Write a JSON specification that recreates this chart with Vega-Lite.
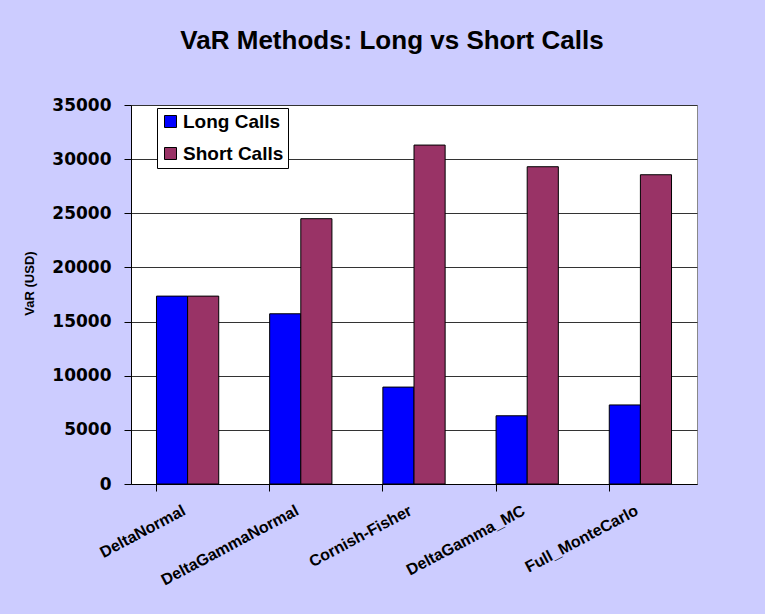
{
  "$schema": "https://vega.github.io/schema/vega-lite/v6.json",
  "width": 566,
  "height": 379,
  "autosize": "none",
  "padding": {"left": 131, "top": 105, "right": 68, "bottom": 130},
  "background": "#CCCCFF",
  "title": {
    "text": "VaR Methods: Long vs Short Calls",
    "font": "Liberation Sans",
    "fontSize": 26,
    "fontWeight": "bold",
    "color": "black",
    "anchor": "middle",
    "frame": "group",
    "offset": 42,
    "dx": -22
  },
  "data": {
    "values": [
      {"method": "DeltaNormal", "series": "Long Calls", "var": 17350},
      {"method": "DeltaNormal", "series": "Short Calls", "var": 17350},
      {"method": "DeltaGammaNormal", "series": "Long Calls", "var": 15720},
      {"method": "DeltaGammaNormal", "series": "Short Calls", "var": 24500},
      {"method": "Cornish-Fisher", "series": "Long Calls", "var": 8950},
      {"method": "Cornish-Fisher", "series": "Short Calls", "var": 31300},
      {"method": "DeltaGamma_MC", "series": "Long Calls", "var": 6300},
      {"method": "DeltaGamma_MC", "series": "Short Calls", "var": 29300},
      {"method": "Full_MonteCarlo", "series": "Long Calls", "var": 7300},
      {"method": "Full_MonteCarlo", "series": "Short Calls", "var": 28560}
    ]
  },
  "mark": {"type": "bar", "stroke": "black", "strokeWidth": 1},
  "encoding": {
    "x": {
      "field": "method",
      "type": "nominal",
      "sort": null,
      "scale": {"paddingInner": 0.45, "paddingOuter": 0.225},
      "axis": {
        "title": null,
        "labelAngle": -28,
        "labelAlign": "right",
        "labelBaseline": "top",
        "labelFont": "Liberation Sans",
        "labelFontSize": 16,
        "labelFontWeight": "bold",
        "labelColor": "black",
        "labelPadding": 11,
        "labelOffset": -7,
        "tickSize": 7,
        "tickColor": "black",
        "domainColor": "black",
        "bandPosition": 0,
        "grid": false
      }
    },
    "xOffset": {"field": "series", "type": "nominal", "sort": ["Long Calls", "Short Calls"]},
    "y": {
      "field": "var",
      "type": "quantitative",
      "scale": {"domain": [0, 35000], "nice": false},
      "axis": {
        "title": "VaR (USD)",
        "titleFont": "Liberation Sans",
        "titleFontSize": 13,
        "titleFontWeight": "bold",
        "titleColor": "black",
        "titlePadding": 15,
        "titleY": 178,
        "values": [0, 5000, 10000, 15000, 20000, 25000, 30000, 35000],
        "format": "d",
        "labelFont": "DejaVu Sans",
        "labelFontSize": 17,
        "labelFontWeight": "bold",
        "labelColor": "black",
        "labelPadding": 13,
        "tickSize": 7,
        "tickColor": "black",
        "domainColor": "black",
        "grid": true,
        "gridColor": "#333333",
        "gridWidth": 1
      }
    },
    "color": {
      "field": "series",
      "type": "nominal",
      "scale": {"domain": ["Long Calls", "Short Calls"], "range": ["#0000FF", "#993366"]},
      "legend": {
        "title": null,
        "orient": "none",
        "legendX": 26,
        "legendY": 3,
        "fillColor": "white",
        "strokeColor": "black",
        "padding": 4,
        "symbolType": "square",
        "symbolSize": 144,
        "symbolStrokeColor": "black",
        "symbolStrokeWidth": 1,
        "symbolOpacity": 1,
        "labelFont": "Liberation Sans",
        "labelFontSize": 19,
        "labelFontWeight": "bold",
        "labelColor": "black",
        "labelOffset": 3,
        "rowPadding": 12
      }
    }
  },
  "config": {
    "view": {"fill": "white", "stroke": "#888888"}
  }
}
